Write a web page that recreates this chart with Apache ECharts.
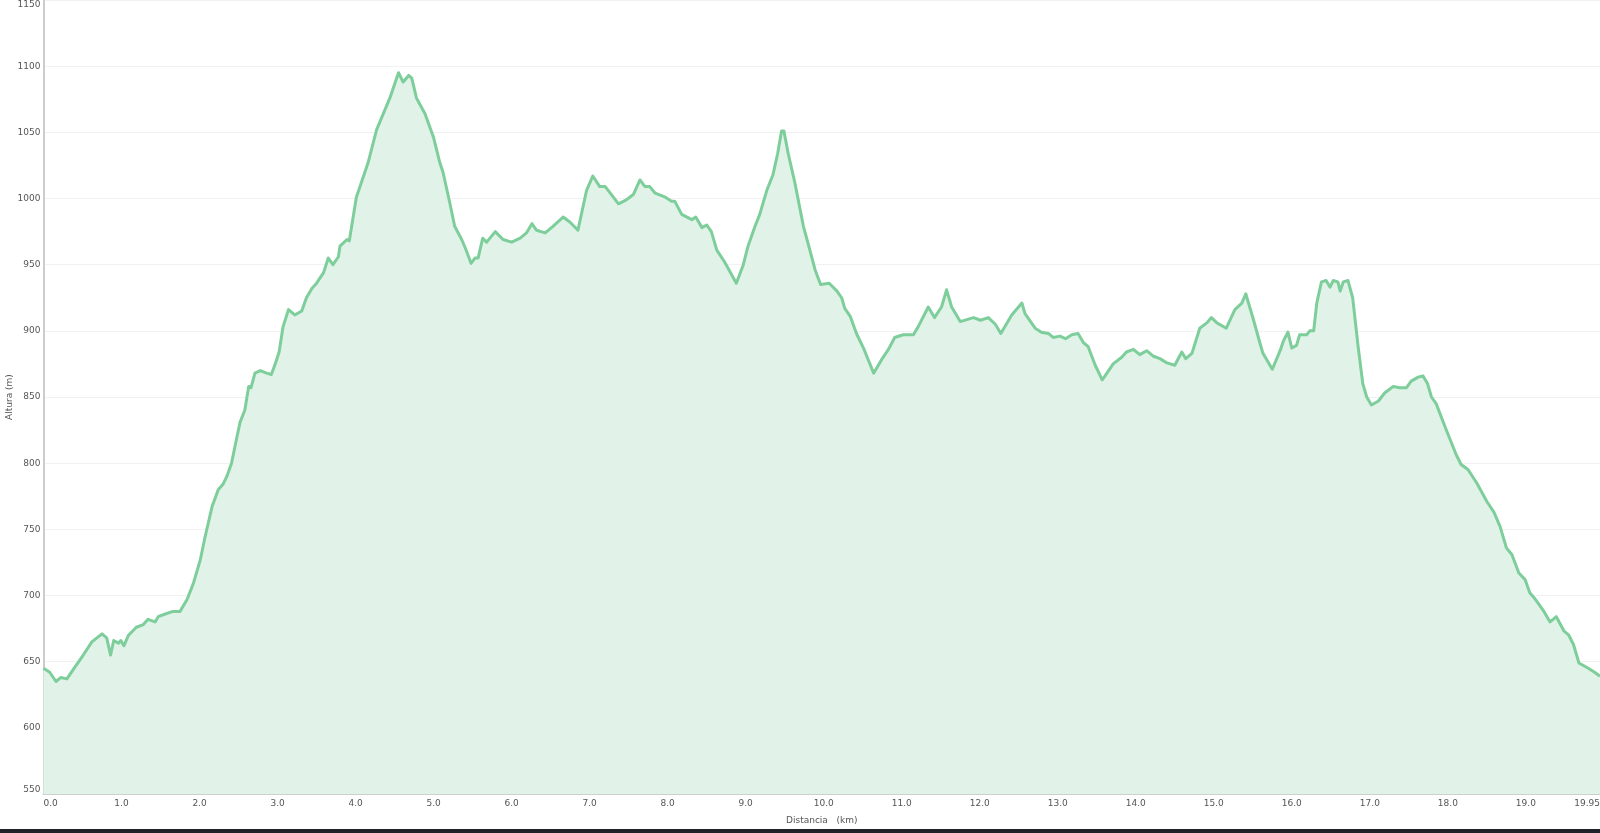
<!DOCTYPE html>
<html>
<head>
<meta charset="utf-8">
<script src="https://cdn.jsdelivr.net/npm/echarts@6/dist/echarts.min.js"></script>
<style>
html,body{margin:0;padding:0;background:#fff;}
#chart{width:1600px;height:833px;}
</style>
</head>
<body>
<div id="chart"></div>
<script>
const distKm = [
0.00,0.08,0.16,0.22,0.30,0.38,0.51,0.62,0.75,0.81,0.86,0.90,0.96,0.99,1.03,1.09,1.19,1.28,1.34,1.43,1.47,1.56,1.66,1.75,1.84,1.92,
2.01,2.07,2.16,2.24,2.30,2.35,2.41,2.48,2.52,2.58,2.63,2.66,2.71,2.78,2.86,2.92,2.97,3.02,3.07,3.14,3.22,3.31,3.37,3.44,3.50,3.59,
3.65,3.71,3.78,3.80,3.89,3.92,4.01,4.12,4.16,4.27,4.44,4.55,4.61,4.68,4.72,4.78,4.89,5.00,5.08,5.12,5.21,5.27,5.36,5.41,5.48,5.53,
5.57,5.63,5.68,5.79,5.89,6.00,6.11,6.19,6.26,6.32,6.43,6.53,6.66,6.75,6.85,6.96,7.04,7.13,7.20,7.37,7.47,7.56,7.645,7.71,7.77,7.84,
7.97,8.05,8.09,8.18,8.31,8.36,8.44,8.50,8.56,8.63,8.73,8.88,8.97,9.03,9.12,9.18,9.27,9.35,9.41,9.46,9.49,9.545,9.63,9.74,9.80,9.89,
9.96,10.07,10.17,10.23,10.27,10.34,10.42,10.51,10.64,10.74,10.83,10.91,11.02,11.15,11.21,11.34,11.42,11.51,11.575,11.64,11.75,11.92,
12.01,12.11,12.20,12.27,12.41,12.54,12.58,12.71,12.79,12.88,12.94,13.03,13.10,13.18,13.26,13.33,13.39,13.48,13.57,13.63,13.71,13.82,
13.88,13.97,14.05,14.14,14.22,14.31,14.39,14.50,14.59,14.64,14.72,14.82,14.91,14.97,15.04,15.16,15.27,15.36,15.41,15.51,15.59,15.63,
15.75,15.85,15.89,15.95,16.00,16.06,16.10,16.19,16.23,16.28,16.32,16.38,16.44,16.49,16.53,16.59,16.62,16.66,16.72,16.78,16.85,16.91,
16.96,17.02,17.11,17.19,17.30,17.38,17.47,17.53,17.62,17.68,17.74,17.79,17.85,17.98,18.11,18.17,18.26,18.37,18.50,18.59,18.67,18.75,
18.82,18.91,18.99,19.05,19.11,19.22,19.31,19.39,19.49,19.55,19.61,19.68,19.80,19.88,19.95
];
const altitudeM = [
645,642,635,638,637,644,655,665,671,668,655,666,664,666,662,670,676,678,682,680,684,686,688,688,697,709,
727,744,767,780,784,790,800,820,831,840,858,857,868,870,868,867,875,884,903,916,912,915,925,932,936,944,
955,950,956,964,969,968,1001,1020,1027,1052,1076,1095,1088,1093,1091,1076,1064,1046,1027,1020,996,979,969,962,951,955,
955,970,967,975,969,967,970,974,981,976,974,979,986,982,976,1006,1017,1009,1009,996,999,1003,1014,1009,1009,1004,
1001,998,998,988,984,986,978,980,975,961,952,936,950,964,979,988,1006,1018,1034,1051,1051,1034,1012,979,966,946,
935,936,930,925,917,911,898,887,868,878,886,895,897,897,903,918,910,918,931,918,907,910,
908,910,905,898,912,921,913,902,899,898,895,896,894,897,898,891,888,874,863,868,875,880,
884,886,882,885,881,879,876,874,884,879,883,902,906,910,906,902,916,921,928,908,891,883,
871,885,892,899,887,889,897,897,900,900,921,937,938,933,938,937,930,937,938,925,888,860,
850,844,847,853,858,857,857,862,865,866,860,850,845,825,806,799,795,785,771,763,752,736,
731,717,712,702,698,689,680,684,673,670,663,649,645,642,639
];
const xTickMax = 19.95;
const yTicks = { min: 550, max: 1150, step: 50 };

const points = distKm.map((d, i) => [d, altitudeM[i]]);
const textColor = '#555';
const font = 'DejaVu Sans, Verdana, sans-serif';

const chart = echarts.init(document.getElementById('chart'), null, { renderer: 'canvas' });
chart.setOption({
  animation: false,
  backgroundColor: '#fff',
  grid: { left: 43.5, right: 0, top: 0, bottom: 39, containLabel: false, outerBoundsMode: 'none' },
  xAxis: {
    type: 'value',
    min: 0,
    max: xTickMax,
    interval: 1,
    name: 'Distancia   (km)',
    nameLocation: 'middle',
    nameGap: 22,
    nameMoveOverlap: false,
    nameTextStyle: { color: textColor, fontSize: 9, fontFamily: font },
    axisLine: { show: true, lineStyle: { color: '#cfcfcf', width: 2 } },
    axisTick: { show: true, inside: true, length: 3, lineStyle: { color: '#cfcfcf', width: 1 } },
    splitLine: { show: false },
    axisLabel: {
      color: textColor, fontSize: 9, fontFamily: font, margin: 5,
      showMaxLabel: true, showMinLabel: true,
      alignMinLabel: 'left', alignMaxLabel: 'right',
      formatter: v => (Math.abs(v - xTickMax) < 1e-6 ? String(xTickMax) : v.toFixed(1))
    }
  },
  yAxis: {
    type: 'value',
    min: yTicks.min,
    max: yTicks.max,
    interval: yTicks.step,
    name: 'Altura (m)',
    nameLocation: 'middle',
    nameGap: 29,
    nameRotate: 90,
    nameMoveOverlap: false,
    nameTextStyle: { color: textColor, fontSize: 9, fontFamily: font },
    axisLine: { show: true, lineStyle: { color: '#cccccc', width: 2 } },
    axisTick: { show: false },
    splitLine: { show: true, lineStyle: { color: 'rgba(0,0,0,0.055)', width: 1 } },
    axisLabel: {
      color: textColor, fontSize: 9, fontFamily: font, margin: 3,
      showMaxLabel: true, showMinLabel: true,
      verticalAlignMaxLabel: 'top', verticalAlignMinLabel: 'bottom',
      formatter: v => String(v)
    }
  },
  series: [{
    type: 'line',
    data: points,
    showSymbol: false,
    symbol: 'none',
    smooth: false,
    lineStyle: { color: '#7dce9b', width: 3, join: 'round' },
    areaStyle: { color: '#e1f3e8', opacity: 1 },
    z: 3
  }],
  graphic: [{
    type: 'rect',
    shape: { x: 0, y: 829, width: 1600, height: 4 },
    style: { fill: '#1f2329' },
    z: 100
  }]
});
</script>
</body>
</html>
